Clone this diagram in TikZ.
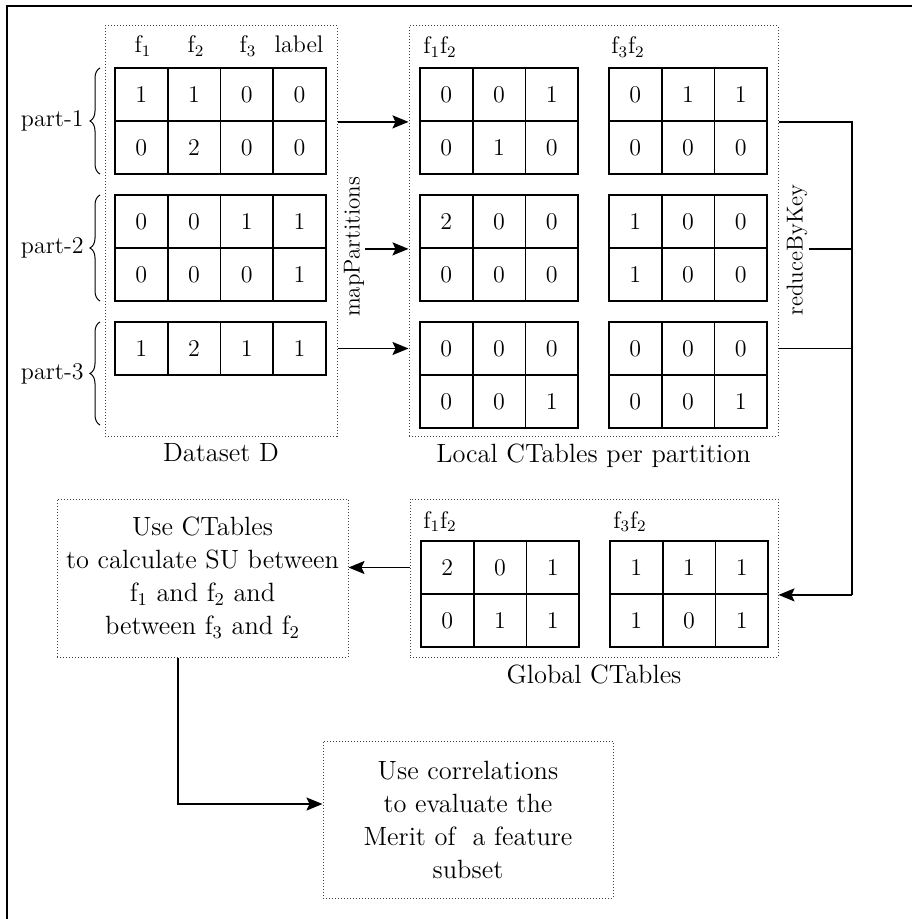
\documentclass[tikz,border=0pt]{standalone}
\usepackage{tikz}
\usetikzlibrary{positioning, arrows.meta, decorations.pathreplacing}

\begin{document}
\begin{tikzpicture}[
    x=0.5pt, y=-0.5pt,
    font=\fontsize{12}{16.5}\selectfont,
    >={Stealth[length=8pt, width=6.5pt, inset=1.5pt]},
    cell/.style={rectangle, draw, line width=0.9pt, minimum width=26.35pt, minimum height=26.5pt, inner sep=0pt},
    group/.style={rectangle, draw=black!75, densely dotted, line width=0.5pt, inner sep=0pt},
    caption/.style={font=\fontsize{13.2}{16.5}\selectfont},
    textbox/.style={group, caption, align=center},
    flow/.style={line width=0.9pt},
    sidelabel/.style={rotate=90, inner sep=0.5pt, font=\fontsize{11.5}{14}\selectfont}
]

\useasboundingbox (0,0) rectangle (912,919);
\draw[line width=1pt] (7,919) -- (7,6) -- (912,6);

% dotted groups
\node[group, minimum width=116pt, minimum height=205pt, label={[caption]below:{Dataset D}}] (dataset) at (221,231) {};
\node[group, minimum width=184.5pt, minimum height=205pt, label={[caption]below:{Local CTables per partition}}] (local) at (593.5,231) {};
\node[group, minimum width=184pt, minimum height=79pt, label={[caption]below:{Global CTables}}] (global) at (594,578) {};
\node[textbox, minimum width=145.5pt, minimum height=79pt] (ctab) at (202.5,578) {Use CTables\\to calculate SU between\\f$_1$ and f$_2$ and\\between f$_3$ and f$_2$};
\node[textbox, minimum width=145pt, minimum height=78.5pt] (merit) at (468,819.5) {Use correlations\\to evaluate the\\Merit of\ \ a feature\\subset};

% column headers
\node[anchor=base] (hf1) at (143,53) {f$_1$};
\node[anchor=base] (hf2) at (196,53) {f$_2$};
\node[anchor=base] (hf3) at (248,53) {f$_3$};
\node[anchor=base] (hlab) at (299,53) {label};
\node[anchor=base] (la) at (440,54) {f$_1$f$_2$};
\node[anchor=base] (lb) at (628,54) {f$_3$f$_2$};
\node[anchor=base] (ga) at (440,528) {f$_1$f$_2$};
\node[anchor=base] (gb) at (630,528) {f$_3$f$_2$};

% partitions
\draw[decorate, decoration={brace, amplitude=5pt}, line width=0.5pt] (100,174) -- (100,68) node[midway, left=4.6pt] (p1) {part-1};
\draw[decorate, decoration={brace, amplitude=5pt}, line width=0.5pt] (100,301) -- (100,195) node[midway, left=4.6pt] (p2) {part-2};
\draw[decorate, decoration={brace, amplitude=5pt}, line width=0.5pt] (100,425) -- (100,322) node[midway, left=4.6pt] (p3) {part-3};

% dataset rows
\foreach \y/\vals [count=\r] in {94.5/{1,1,0,0}, 147.5/{0,2,0,0}, 221.5/{0,0,1,1}, 274.5/{0,0,0,1}, 348.5/{1,2,1,1}}
  \foreach \v [count=\c] in \vals
    \node[cell] (d-\r-\c) at ({88.65+52.7*\c}, \y) {\v};

% local ctables
\foreach \y/\vals [count=\r] in {94.5/{0,0,1}, 147.5/{0,1,0}, 221.5/{2,0,0}, 274.5/{0,0,0}, 348.5/{0,0,0}, 401.5/{0,0,1}}
  \foreach \v [count=\c] in \vals
    \node[cell] (a-\r-\c) at ({393.65+52.7*\c}, \y) {\v};
\foreach \y/\vals [count=\r] in {94.5/{0,1,1}, 147.5/{0,0,0}, 221.5/{1,0,0}, 274.5/{1,0,0}, 348.5/{0,0,0}, 401.5/{0,0,1}}
  \foreach \v [count=\c] in \vals
    \node[cell] (b-\r-\c) at ({582.65+52.7*\c}, \y) {\v};

% global ctables
\foreach \y/\vals [count=\r] in {567.5/{2,0,1}, 620.5/{0,1,1}}
  \foreach \v [count=\c] in \vals
    \node[cell] (ga-\r-\c) at ({394.65+52.7*\c}, \y) {\v};
\foreach \y/\vals [count=\r] in {567.5/{1,1,1}, 620.5/{1,0,1}}
  \foreach \v [count=\c] in \vals
    \node[cell] (gb-\r-\c) at ({583.65+52.7*\c}, \y) {\v};

\node[sidelabel] (mapp) at (354,247) {mapPartitions};
\node[sidelabel] (rbk) at (797,250) {reduceByKey};

\draw[flow, ->] (dataset.east |- d-1-1.south) -- (local.west |- d-1-1.south);
\draw[flow, ->] (mapp.south |- d-3-1.south) -- (local.west |- d-3-1.south);
\draw[flow, ->] (dataset.east |- d-5-1) -- (local.west |- d-5-1);

\coordinate (join) at (852,0);
\draw[flow] (local.east |- b-1-1.south) -| (join |- gb-1-1.south);
\draw[flow] (rbk.south |- b-3-1.south) -- (join |- b-3-1.south);
\draw[flow] (local.east |- b-5-1) -- (join |- b-5-1);
\draw[flow, ->] (join |- gb-1-1.south) -- (global.east |- gb-1-1.south);

\draw[flow, ->] (global.west |- ga-1-1) -- (ctab.east |- ga-1-1);
\coordinate (bend) at (178,804);
\draw[flow, ->] (ctab.south -| bend) -- (bend) -- (merit.west |- bend);

\end{tikzpicture}
\end{document}
